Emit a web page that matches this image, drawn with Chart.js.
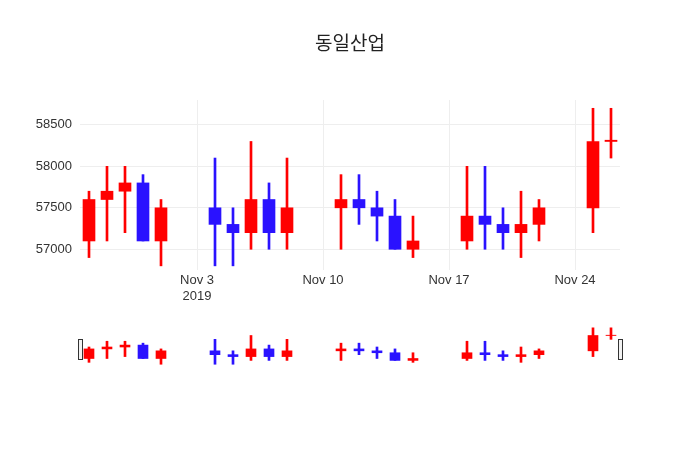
<!DOCTYPE html>
<html>
<head>
<meta charset="utf-8">
<script src="https://cdn.jsdelivr.net/npm/chart.js@4"></script>
<style>
  body { margin: 0; background: #fff; }
  #wrap { position: relative; width: 700px; height: 450px; font-family: "Open Sans", "Noto Sans CJK KR", sans-serif; }
  #title { position: absolute; top: 28px; width: 700px; text-align: center; font-size: 19px; color: #222; font-family: "Noto Sans CJK KR", sans-serif; }
  #main { position: absolute; left: 0; top: 0; }
  #slider { position: absolute; left: 74px; top: 324px; }
</style>
</head>
<body>
<div id="wrap">
  <canvas id="main" width="700" height="450"></canvas>
  <canvas id="slider" width="552" height="46"></canvas>
  <div id="title">동일산업</div>
</div>
<script>
// days relative to Nov 3 2019
var days  = [-6, -5, -4, -3, -2, 1, 2, 3, 4, 5, 8, 9, 10, 11, 12, 15, 16, 17, 18, 19, 22, 23];
var open  = [57100, 57600, 57700, 57800, 57100, 57500, 57300, 57200, 57600, 57200, 57500, 57600, 57500, 57400, 57000, 57100, 57400, 57300, 57200, 57300, 57500, 58300];
var high  = [57700, 58000, 58000, 57900, 57600, 58100, 57500, 58300, 57800, 58100, 57900, 57900, 57700, 57600, 57400, 58000, 58000, 57500, 57700, 57600, 58700, 58700];
var low   = [56900, 57100, 57200, 57100, 56800, 56800, 56800, 57000, 57000, 57000, 57000, 57300, 57100, 57000, 56900, 57000, 57000, 57000, 56900, 57100, 57200, 58100];
var close = [57600, 57700, 57800, 57100, 57500, 57300, 57200, 57600, 57200, 57500, 57600, 57500, 57400, 57000, 57100, 57400, 57300, 57200, 57300, 57500, 58300, 58300];
var xTicks = [0, 7, 14, 21];
var xTickLabels = [["Nov 3", "2019"], "Nov 10", "Nov 17", "Nov 24"];
var yTicks = [57000, 57500, 58000, 58500];

var colors = close.map(function (c, i) { return c >= open[i] ? "#ff0000" : "#2a12ff"; });
var bodies = days.map(function (d, i) {
  var c = close[i] == open[i] ? close[i] + 15 : close[i];
  return { x: d, y: [open[i], c] };
});
var wicks = days.map(function (d, i) { return { x: d, y: [low[i], high[i]] }; });

function datasets(bodyW, wickW) {
  return [
    { data: wicks, backgroundColor: colors, barThickness: wickW, grouped: false, order: 2 },
    { data: bodies, backgroundColor: colors, barThickness: bodyW, grouped: false, order: 1 }
  ];
}

new Chart(document.getElementById("main"), {
  type: "bar",
  data: { datasets: datasets(12, 2) },
  options: {
    responsive: false, animation: false,
    layout: { padding: { top: 100, right: 80, left: 0, bottom: 0 } },
    plugins: { legend: { display: false }, tooltip: { enabled: false } },
    scales: {
      x: {
        type: "linear", min: -6.5, max: 23.5, offset: false,
        afterBuildTicks: function (s) { s.ticks = xTicks.map(function (v) { return { value: v }; }); },
        afterFit: function (s) { s.height = 180; },
        ticks: {
          color: "#333", font: { size: 13 }, maxRotation: 0,
          callback: function (v) { return xTickLabels[xTicks.indexOf(v)]; }
        },
        grid: { color: "#eeeeee", drawTicks: false, offset: false },
        border: { display: false }
      },
      y: {
        min: 56750, max: 58800,
        afterBuildTicks: function (s) { s.ticks = yTicks.map(function (v) { return { value: v }; }); },
        afterFit: function (s) { s.width = 80; },
        ticks: { color: "#333", font: { size: 13 }, padding: 8, callback: function (v) { return String(v); } },
        grid: { color: "#eeeeee", drawTicks: false },
        border: { display: false }
      }
    }
  }
});

var handles = {
  id: "handles",
  afterDraw: function (chart) {
    var ctx = chart.ctx, a = chart.chartArea;
    ctx.save();
    ctx.fillStyle = "#f2f2f2"; ctx.strokeStyle = "#333"; ctx.lineWidth = 1;
    [a.left - 2, a.right - 2].forEach(function (x) {
      ctx.fillRect(x, 15, 4, 20); ctx.strokeRect(x + 0.5, 15.5, 4, 20);
    });
    ctx.restore();
  }
};

new Chart(document.getElementById("slider"), {
  type: "bar",
  data: { datasets: datasets(10, 2) },
  plugins: [handles],
  options: {
    responsive: false, animation: false,
    layout: { padding: { left: 6, right: 6, top: 0, bottom: 0 } },
    plugins: { legend: { display: false }, tooltip: { enabled: false } },
    scales: {
      x: { type: "linear", min: -6.5, max: 23.5, offset: false, display: false },
      y: { min: 56500, max: 58900, display: false }
    }
  }
});
</script>
</body>
</html>
